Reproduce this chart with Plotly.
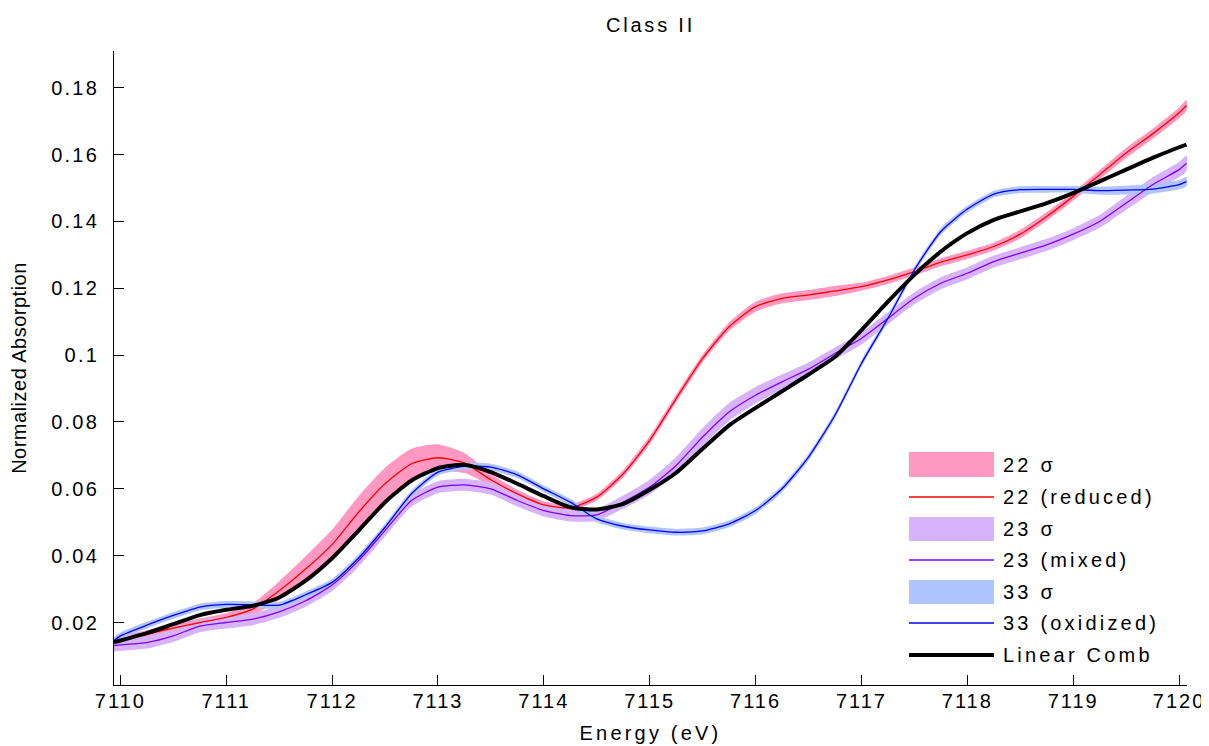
import plotly.graph_objects as go

# ---------------- data ----------------
energy = [7109.94, 7110.00, 7110.25, 7110.50, 7110.75, 7111.00, 7111.25, 7111.50, 7111.75,
          7112.00, 7112.25, 7112.50, 7112.75, 7113.00, 7113.25, 7113.50, 7113.75, 7114.00,
          7114.25, 7114.50, 7114.75, 7115.00, 7115.25, 7115.50, 7115.75, 7116.00, 7116.25,
          7116.50, 7116.75, 7117.00, 7117.25, 7117.50, 7117.75, 7118.00, 7118.25, 7118.50,
          7118.75, 7119.00, 7119.25, 7119.50, 7119.75, 7120.00, 7120.07]

reduced_22 = [0.0143, 0.0148, 0.0165, 0.0183, 0.0200, 0.0215, 0.0240, 0.0295, 0.0360,
              0.0433, 0.0530, 0.0615, 0.0675, 0.0693, 0.0677, 0.0627, 0.0585, 0.0552,
              0.0543, 0.0575, 0.0645, 0.0745, 0.0870, 0.0990, 0.1085, 0.1145, 0.1170,
              0.1180, 0.1192, 0.1205, 0.1225, 0.1250, 0.1278, 0.1300, 0.1325, 0.1362,
              0.1415, 0.1475, 0.1540, 0.1605, 0.1662, 0.1725, 0.1747]

sigma_22 = [0.0012, 0.0012, 0.0012, 0.0012, 0.0012, 0.0013, 0.0018, 0.0028, 0.0038,
            0.0045, 0.0048, 0.0048, 0.0045, 0.0040, 0.0030, 0.0018, 0.0012, 0.0011,
            0.0010, 0.0010, 0.0011, 0.0012, 0.0012, 0.0012, 0.0013, 0.0015, 0.0015,
            0.0015, 0.0015, 0.0012, 0.0012, 0.0012, 0.0012, 0.0012, 0.0012, 0.0013,
            0.0013, 0.0013, 0.0014, 0.0015, 0.0015, 0.0016, 0.0016]

mixed_23 = [0.0131, 0.0133, 0.0140, 0.0160, 0.0189, 0.0200, 0.0210, 0.0232, 0.0265,
            0.0312, 0.0385, 0.0475, 0.0565, 0.0605, 0.0612, 0.0600, 0.0565, 0.0535,
            0.0520, 0.0522, 0.0560, 0.0605, 0.0670, 0.0755, 0.0830, 0.0880, 0.0920,
            0.0958, 0.1005, 0.1050, 0.1110, 0.1170, 0.1215, 0.1245, 0.1280, 0.1305,
            0.1330, 0.1362, 0.1400, 0.1455, 0.1510, 0.1555, 0.1574]

sigma_23 = [0.0018, 0.0018, 0.0018, 0.0018, 0.0018, 0.0018, 0.0018, 0.0018, 0.0018,
            0.0018, 0.0018, 0.0018, 0.0018, 0.0018, 0.0018, 0.0018, 0.0018, 0.0018,
            0.0018, 0.0018, 0.0020, 0.0022, 0.0025, 0.0027, 0.0027, 0.0025, 0.0022,
            0.0020, 0.0018, 0.0018, 0.0018, 0.0018, 0.0018, 0.0018, 0.0018, 0.0018,
            0.0018, 0.0018, 0.0019, 0.0021, 0.0022, 0.0023, 0.0023]

oxidized_33 = [0.0146, 0.0160, 0.0192, 0.0221, 0.0246, 0.0254, 0.0253, 0.0252, 0.0283,
               0.0320, 0.0393, 0.0485, 0.0585, 0.0650, 0.0667, 0.0665, 0.0642, 0.0600,
               0.0560, 0.0510, 0.0488, 0.0477, 0.0470, 0.0474, 0.0495, 0.0535, 0.0600,
               0.0695, 0.0820, 0.0975, 0.1110, 0.1255, 0.1370, 0.1437, 0.1482, 0.1495,
               0.1496, 0.1496, 0.1492, 0.1494, 0.1497, 0.1510, 0.1519]

sigma_33 = [0.0010] * 38 + [0.0012, 0.0013, 0.0014, 0.0014, 0.0014]

linear_comb = [0.0141, 0.0146, 0.0168, 0.0195, 0.0222, 0.0238, 0.0250, 0.0275, 0.0325,
               0.0392, 0.0475, 0.0560, 0.0625, 0.0662, 0.0672, 0.0650, 0.0615, 0.0578,
               0.0545, 0.0538, 0.0555, 0.0597, 0.0648, 0.0720, 0.0790, 0.0842, 0.0892,
               0.0942, 0.0995, 0.1075, 0.1160, 0.1240, 0.1310, 0.1365, 0.1405, 0.1430,
               0.1455, 0.1485, 0.1520, 0.1555, 0.1590, 0.1622, 0.1630]

x_ticks = [7110, 7111, 7112, 7113, 7114, 7115, 7116, 7117, 7118, 7119, 7120]
x_tick_labels = ["7110", "7111", "7112", "7113", "7114", "7115", "7116", "7117", "7118", "7119", "7120"]
y_ticks = [0.02, 0.04, 0.06, 0.08, 0.1, 0.12, 0.14, 0.16, 0.18]
y_tick_labels = ["0.02", "0.04", "0.06", "0.08", "0.1", "0.12", "0.14", "0.16", "0.18"]

legend_labels = ["22 σ", "22 (reduced)", "23 σ", "23 (mixed)", "33 σ", "33 (oxidized)", "Linear Comb"]

# ---------------- styles ----------------
FONT = "Liberation Sans, Arial, Helvetica, sans-serif"
FS = 20
PINK_FILL = "#FF99C2"
PURPLE_FILL = "#D7B4FA"
BLUE_FILL = "#B0C4FF"
RED = "#FF0000"
PURPLE = "#7F00FF"
BLUE = "#0000FF"

# the page body has an 8px margin; the figure is sized so that it fills the window
OFF = 8
FIG_W, FIG_H = 1209 - OFF, 746 - OFF


def spaced(text, ls):
    return '<span style="letter-spacing:%.1fpx">%s</span>' % (ls, text)


series = [
    (sigma_22, reduced_22, PINK_FILL, RED),
    (sigma_23, mixed_23, PURPLE_FILL, PURPLE),
    (sigma_33, oxidized_33, BLUE_FILL, BLUE),
]

fig = go.Figure()
for (sig, val, fcol, lcol), lab_s in zip(series, legend_labels[0::2]):
    upper = [v + s for v, s in zip(val, sig)]
    lower = [v - s for v, s in zip(val, sig)]
    fig.add_trace(go.Scatter(
        x=energy + energy[::-1], y=upper + lower[::-1],
        fill="toself", fillcolor=fcol, line=dict(width=0, color=fcol, shape="spline", smoothing=0.6),
        mode="lines", name=lab_s, showlegend=False, hoverinfo="skip"))
for (sig, val, fcol, lcol), lab_l in zip(series, legend_labels[1::2]):
    fig.add_trace(go.Scatter(
        x=energy, y=val, mode="lines", name=lab_l, showlegend=False,
        line=dict(color=lcol, width=1.3, shape="spline", smoothing=0.6)))
fig.add_trace(go.Scatter(
    x=energy, y=linear_comb, mode="lines", name=legend_labels[6], showlegend=False,
    line=dict(color="black", width=4, shape="spline", smoothing=0.6)))

# ---------------- manual legend (MATLAB-like wide swatches) ----------------
# plot-area edges in window pixels
L, R, T, B = 114, 1187, 51, 685
W, H = R - L, B - T


def px(xp):
    return (xp - L) / W


def py(yp):
    return (B - yp) / H


sw_x0, sw_x1, txt_x = 909, 994, 1001
rows = [
    ("rect", 452, 477, PINK_FILL, 465),
    ("line", 497, None, RED, 497),
    ("rect", 517, 541, PURPLE_FILL, 529),
    ("line", 560, None, PURPLE, 560),
    ("rect", 580, 604, BLUE_FILL, 592),
    ("line", 623, None, BLUE, 623),
    ("thick", 655, None, "black", 655),
]
shapes = []
annotations = []
for (kind, a, b, col, ty), lab in zip(rows, legend_labels):
    if kind == "rect":
        shapes.append(dict(type="rect", xref="paper", yref="paper",
                           x0=px(sw_x0), x1=px(sw_x1), y0=py(b), y1=py(a),
                           fillcolor=col, line=dict(width=0), layer="above"))
    else:
        shapes.append(dict(type="line", xref="paper", yref="paper",
                           x0=px(sw_x0), x1=px(sw_x1), y0=py(a), y1=py(a),
                           line=dict(color=col, width=4 if kind == "thick" else 1.3),
                           layer="above"))
    annotations.append(dict(text=spaced(lab, 3.2), xref="paper", yref="paper", x=px(txt_x), y=py(ty),
                            xanchor="left", yanchor="middle", showarrow=False,
                            font=dict(family=FONT, size=FS, color="black")))

fig.update_layout(
    width=FIG_W, height=FIG_H,
    margin=dict(l=L - OFF, r=FIG_W - (R - OFF), t=T - OFF, b=FIG_H - (B - OFF), pad=0,
                autoexpand=False),
    paper_bgcolor="white", plot_bgcolor="white",
    font=dict(family=FONT, size=FS, color="black"),
    title=dict(text=spaced("Class II", 2.8), x=0.5, xanchor="center", xref="paper",
               y=1 - 17 / FIG_H, yanchor="middle", font=dict(family=FONT, size=FS, color="black")),
    xaxis=dict(range=[7109.94, 7120.075], tickvals=x_ticks,
               ticktext=[spaced(t, 2.0) for t in x_tick_labels],
               ticks="inside", ticklen=10, tickcolor="black", showline=True, linecolor="black",
               linewidth=1, showgrid=False, zeroline=False, mirror=False, automargin=False,
               ticklabelstandoff=-2,
               title=dict(text=spaced("Energy (eV)", 3.2), standoff=14, font=dict(family=FONT, size=FS)),
               tickfont=dict(family=FONT, size=FS)),
    yaxis=dict(range=[0.0013, 0.191], tickvals=y_ticks,
               ticktext=[spaced(t, 2.2) for t in y_tick_labels],
               ticks="inside", ticklen=10, tickcolor="black", showline=True,
               linecolor="black", linewidth=1, showgrid=False, zeroline=False, automargin=False,
               ticklabelstandoff=10,
               title=dict(text=spaced("Normalized Absorption", 0.5), standoff=26,
                          font=dict(family=FONT, size=FS)),
               tickfont=dict(family=FONT, size=FS)),
    shapes=shapes, annotations=annotations, showlegend=False,
)

fig.write_html("out.html")
